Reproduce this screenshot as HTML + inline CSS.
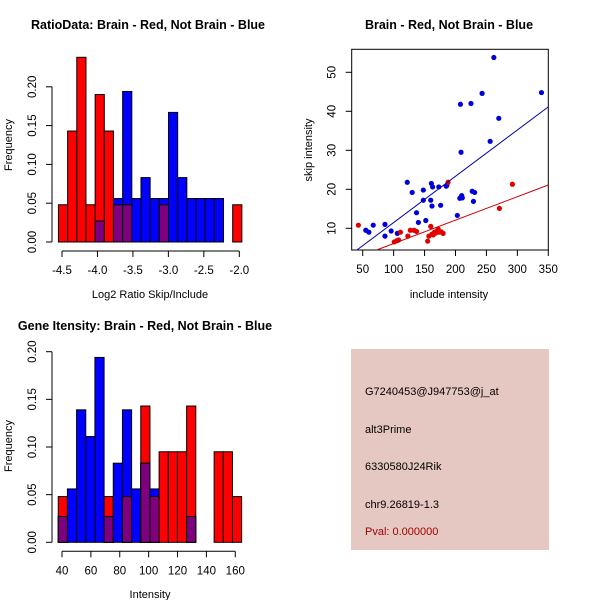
<!DOCTYPE html>
<html><head><meta charset="utf-8"><style>
body{margin:0;background:#fff}
svg{display:block;font-family:"Liberation Sans",sans-serif}
</style></head><body>
<svg id="c" width="600" height="600" xmlns="http://www.w3.org/2000/svg">
<rect x="0" y="0" width="600" height="600" fill="#fff"/>
<text x="148" y="29" font-size="12.5" font-weight="bold" text-anchor="middle">RatioData: Brain - Red, Not Brain - Blue</text>
<text x="449" y="29" font-size="12.5" font-weight="bold" text-anchor="middle">Brain - Red, Not Brain - Blue</text>
<text x="145" y="330" font-size="12.5" font-weight="bold" text-anchor="middle">Gene Itensity: Brain - Red, Not Brain - Blue</text>
<g id="p1"></g>
<g id="p2"></g>
<g id="p3"></g>
<g>
<rect x="351" y="349" width="198" height="201" fill="#E6C8C2"/>
<text x="365" y="395" font-size="11">G7240453@J947753@j_at</text>
<text x="365" y="433" font-size="11">alt3Prime</text>
<text x="365" y="470" font-size="11">6330580J24Rik</text>
<text x="365" y="508" font-size="11">chr9.26819-1.3</text>
<text x="365" y="535" font-size="11" fill="#A00000">Pval: 0.000000</text>
</g>
</svg>
<script>
// ratio histogram data
const ratioBinStart = -4.55, ratioBinWidth = 0.1293;
const ratioRed  = [0.048,0.143,0.238,0.048,0.190,0.143,0.048,0.048,0,0,0,0.048,0,0,0,0,0,0,0,0.048];
const ratioBlue = [0,0,0,0,0.027,0,0.056,0.194,0.056,0.083,0.056,0.056,0.167,0.083,0.056,0.056,0.056,0.056,0,0];
const ratioXTicks = [-4.5,-4.0,-3.5,-3.0,-2.5,-2.0];
const ratioYTicks = [0,0.05,0.10,0.15,0.20];
// intensity histogram data
const intBinStart = 37.4, intBinWidth = 6.35;
const intRed  = [0.048,0,0,0,0,0.048,0,0.048,0,0.143,0.048,0.095,0.095,0.095,0.143,0,0,0.095,0.095,0.048];
const intBlue = [0.027,0.056,0.139,0.111,0.194,0.027,0.083,0.139,0.056,0.083,0.056,0,0,0,0.027,0,0,0,0,0];
const intXTicks = [40,60,80,100,120,140,160];
const intYTicks = [0,0.05,0.10,0.15,0.20];
// scatter data
const blueX = [55,60,67,86,86,96,106,122,130,137,140,148,148,152,160,161,162,163,173,176,185,186,203,207,208,209,210,211,225,227,229,231,243,256,262,270,339];
const blueY = [9.5,9,10.8,11,8,9.3,8.7,21.8,19.2,14,11.5,19.8,17.2,12,17.2,21.5,15.7,20.6,20.6,15.9,20.8,21,13.3,17.7,41.8,29.5,18.4,17.8,42,19.5,16.9,19.2,44.6,32.3,53.8,38.2,44.8];
const redX = [43,101,105,108,111,123,127,133,137,155,157,160,162,164,166,168,170,172,174,177,180,188,271,292];
const redY = [10.8,6.5,6.8,7,9,8,9.5,9.5,9.2,6.7,8,10.5,8.5,8.3,9,8.8,9.3,9.8,9,9.1,8.7,21.8,15.1,21.3];
const blueFit = [-0.38,0.1186];
const redFit = [0.1,0.06];
const scXTicks = [50,100,150,200,250,300,350];
const scYTicks = [10,20,30,40,50];

const NS="http://www.w3.org/2000/svg";
function mk(parent,tag,attrs,text){const e=document.createElementNS(NS,tag);for(const k in attrs)e.setAttribute(k,attrs[k]);if(text!==undefined)e.textContent=text;parent.appendChild(e);return e;}

function hist(g,o){
  const sx=v=>o.x0+(v-o.dx0)*o.kx, sy=v=>o.y0-v*o.ky;
  for(let i=0;i<o.red.length;i++){
    const a=o.bs+i*o.bw,b=a+o.bw,r=o.red[i],bl=o.blue[i];
    if(r>0){const e=mk(g,'rect',{x:sx(a),y:sy(r),width:sx(b)-sx(a),height:sy(0)-sy(r),fill:'#FF0000',stroke:'#000','stroke-width':1});
      
      }
    if(bl>0){const e=mk(g,'rect',{x:sx(a),y:sy(bl),width:sx(b)-sx(a),height:sy(0)-sy(bl),fill:'#0000FF',stroke:'#000','stroke-width':1});
      
      }
    const m=Math.min(r,bl);
    if(m>0){const e=mk(g,'rect',{x:sx(a),y:sy(m),width:sx(b)-sx(a),height:sy(0)-sy(m),fill:'#7F007F',stroke:'#000','stroke-width':1});
      
      }
  }
  const xb=o.y0+9;
  mk(g,'line',{x1:sx(o.xt[0]),x2:sx(o.xt[o.xt.length-1]),y1:xb,y2:xb,stroke:'#000'});
  o.xt.forEach(t=>{mk(g,'line',{x1:sx(t),x2:sx(t),y1:xb,y2:xb+6,stroke:'#000'});
    const e=mk(g,'text',{x:sx(t),y:xb+23,'font-size':11.5,'text-anchor':'middle'},o.fmtx(t));
    
    });
  const yl=o.x0-10;
  mk(g,'line',{x1:yl,x2:yl,y1:sy(o.yt[0]),y2:sy(o.yt[o.yt.length-1]),stroke:'#000'});
  o.yt.forEach(t=>{mk(g,'line',{x1:yl,x2:yl-6,y1:sy(t),y2:sy(t),stroke:'#000'});
    const e=mk(g,'text',{x:0,y:0,'font-size':11.5,'text-anchor':'middle',transform:`translate(${yl-16},${sy(t)}) rotate(-90)`},t.toFixed(2));
    
    });
  const xt=mk(g,'text',{x:o.xlx,y:o.xly,'font-size':11,'text-anchor':'middle'},o.xl);
  
  
  const yt=mk(g,'text',{x:0,y:0,'font-size':11,'text-anchor':'middle',transform:`translate(12,${o.yly}) rotate(-90)`},'Frequency');
  
  
}

hist(document.getElementById('p1'),{x0:62,dx0:-4.5,kx:70.92,y0:242,ky:776,bs:ratioBinStart,bw:ratioBinWidth,red:ratioRed,blue:ratioBlue,xt:ratioXTicks,yt:ratioYTicks,fmtx:t=>t.toFixed(1),xl:'Log2 Ratio Skip/Include',xlx:150,xly:298,yly:145});
hist(document.getElementById('p3'),{x0:62,dx0:40,kx:1.444,y0:542.3,ky:953,bs:intBinStart,bw:intBinWidth,red:intRed,blue:intBlue,xt:intXTicks,yt:intYTicks,fmtx:t=>String(t),xl:'Intensity',xlx:150,xly:598,yly:446});

// scatter
(function(){
  const g=document.getElementById('p2');
  const L=351.7,R=548.3,T=49.3,B=250;
  const sx=v=>362.7+(v-50)*0.6186, sy=v=>228.3-(v-10)*3.9;
  mk(g,'rect',{x:L,y:T,width:R-L,height:B-T,fill:'none',stroke:'#000'});
  function fit(f,col,nm){
    const xa=32.2,xb=350;
    let x1=xa,y1=f[0]+f[1]*xa; if(y1<4.44){x1=(4.44-f[0])/f[1];y1=4.44;}
    const e=mk(g,'line',{x1:sx(x1),y1:sy(y1),x2:sx(xb),y2:sy(f[0]+f[1]*xb),stroke:col,'stroke-width':1});
    
    
  }
  blueX.forEach((x,i)=>{const e=mk(g,'circle',{cx:sx(x),cy:sy(blueY[i]),r:2.6,fill:'#0000DD'});
    
    });
  redX.forEach((x,i)=>{const e=mk(g,'circle',{cx:sx(x),cy:sy(redY[i]),r:2.6,fill:'#E00000'});
    
    });
  fit(blueFit,'#0000AA','blue-fit-line');
  fit(redFit,'#CC0000','red-fit-line');
  scXTicks.forEach(t=>{mk(g,'line',{x1:sx(t),x2:sx(t),y1:B,y2:B+6,stroke:'#000'});
    const e=mk(g,'text',{x:sx(t),y:B+23,'font-size':11.5,'text-anchor':'middle'},String(t));
    
    });
  scYTicks.forEach(t=>{mk(g,'line',{x1:L,x2:L-6,y1:sy(t),y2:sy(t),stroke:'#000'});
    const e=mk(g,'text',{x:0,y:0,'font-size':11.5,'text-anchor':'middle',transform:`translate(${L-16},${sy(t)}) rotate(-90)`},String(t));
    
    });
  const xt=mk(g,'text',{x:449,y:298,'font-size':11,'text-anchor':'middle'},'include intensity');
  
  
  const yt=mk(g,'text',{x:0,y:0,'font-size':11,'text-anchor':'middle',transform:'translate(312,150) rotate(-90)'},'skip intensity');
  
  
})();
</script>
</body></html>
